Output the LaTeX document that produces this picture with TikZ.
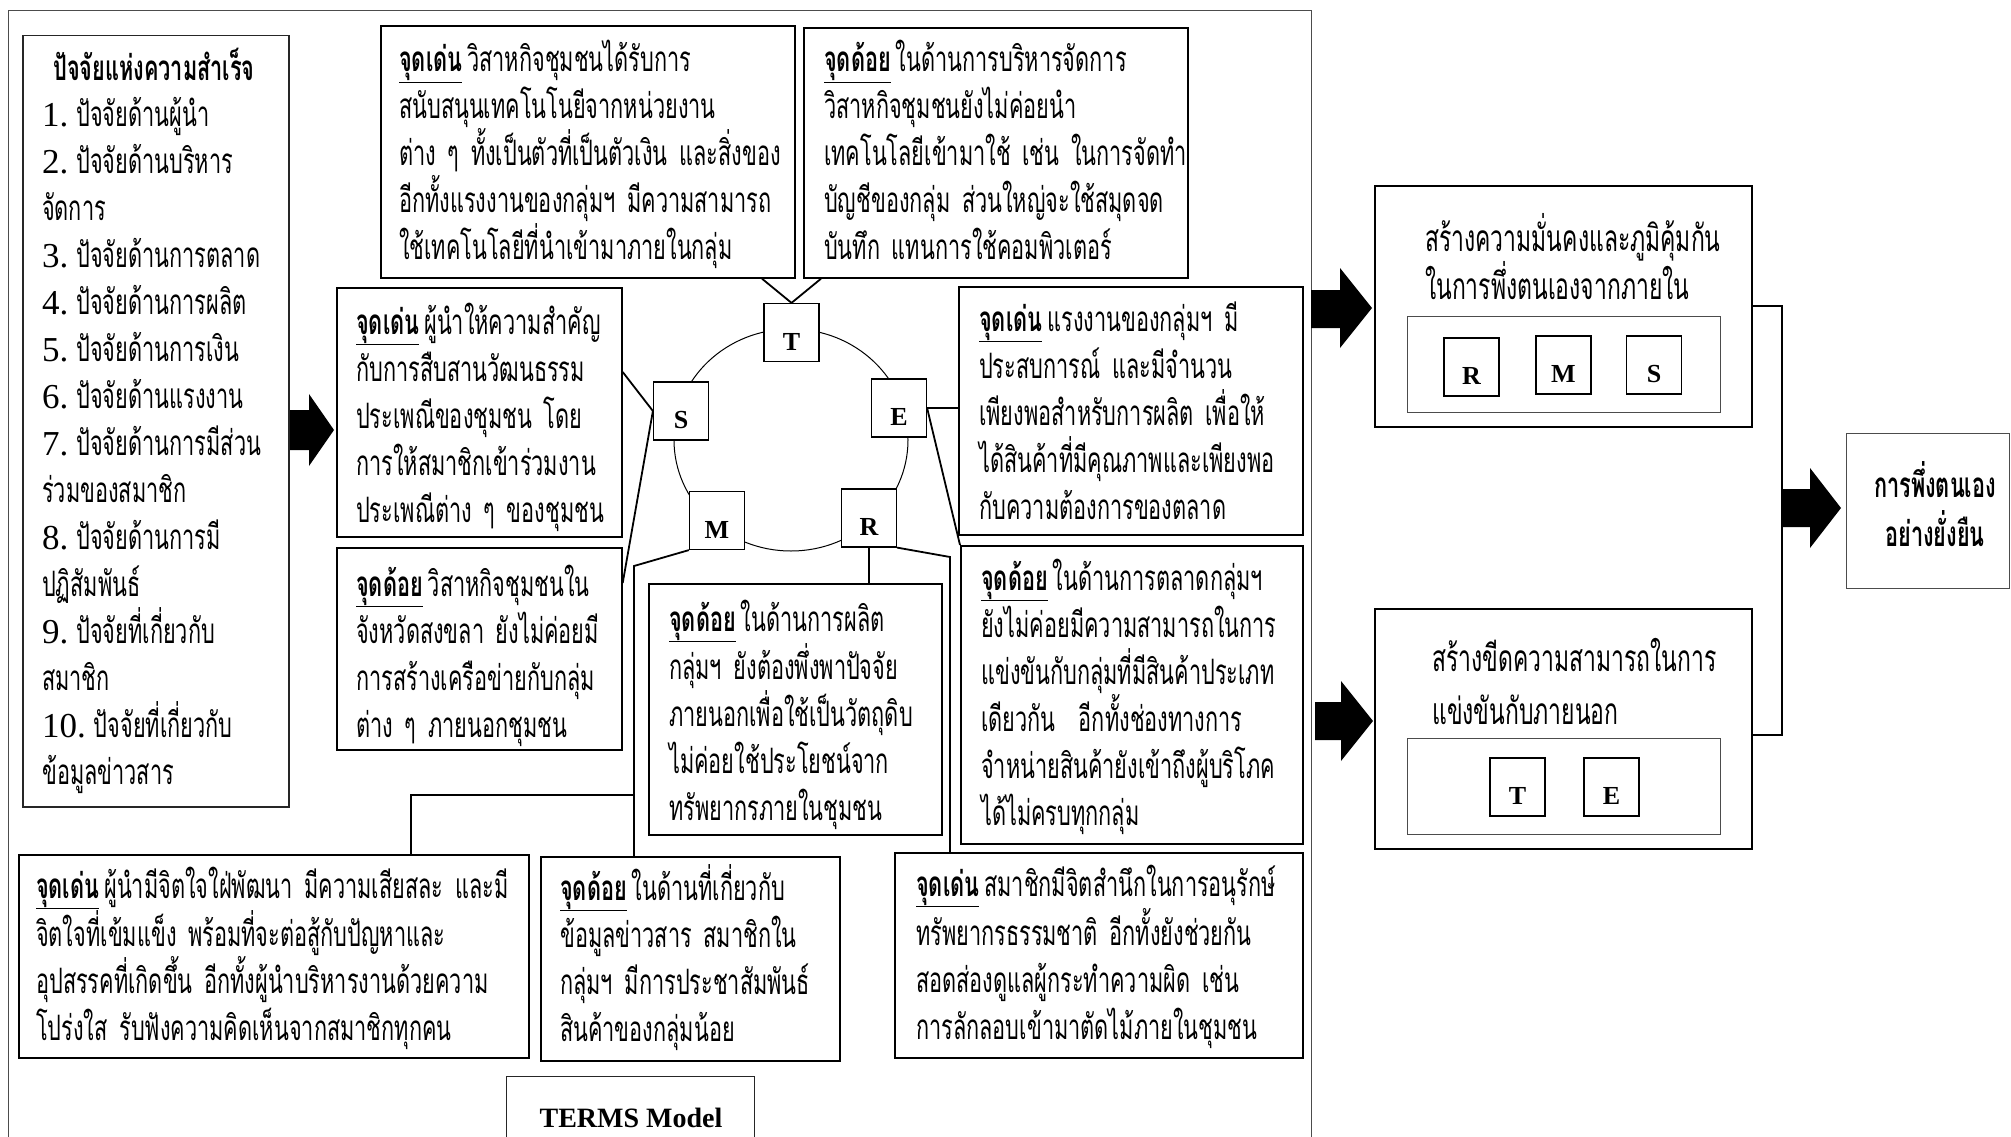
\documentclass[tikz,border=0pt]{standalone}
\usepackage{fontspec}
\setmainfont{Liberation Serif}
\newfontfamily\thai[Script=Thai,FakeStretch=0.62]{Loma}
\newcommand\lat[1]{{\rmfamily #1}\kern8pt}
\newcommand\hd[1]{\underline{\textbf{#1}}\kern5pt}
\newcommand\thaitext[1]{\thai\fontsize{#1}{47pt}\selectfont\spaceskip=9pt\relax}
\begin{document}
\begin{tikzpicture}[x=1pt,y=-1pt,
  tbox/.style={draw, line width=1.7pt, inner sep=0pt, anchor=north west},
  gbox/.style={draw=black!70, line width=1.2pt, inner sep=0pt, anchor=north west},
  txt/.style={anchor=base west, inner sep=0pt, text width=700pt, align=left,
    font={\thaitext{35pt}}},
  letbox/.style={draw, line width=1.2pt, fill=white, minimum width=55pt, minimum height=58pt,
    inner sep=0pt, font=\bfseries\fontsize{26pt}{30pt}\selectfont, text height=35pt, text depth=0pt},
  conn/.style={line width=1.8pt},
  blockarrow/.style={fill=black}]
\useasboundingbox (0,0) rectangle (2011,1137);

% outer frame
\node[gbox, minimum width=1303pt, minimum height=1140pt] (frame) at (8,10) {};

% circle of TERMS
\draw[line width=1pt] (791,440) ellipse [x radius=117pt, y radius=111pt];
\node[letbox] (T) at (791.5,332.5) {T};
\node[letbox] (S) at (681,411) {S};
\node[letbox] (E) at (899,408) {E};
\node[letbox] (M) at (717,520.5) {M};
\node[letbox] (R) at (869,518) {R};

% left factor box
\node[gbox, draw=black!85, line width=1.5pt, minimum width=266pt, minimum height=771pt] (lbox) at (22,35) {};
\node[anchor=base, inner sep=0pt, font=\thai\bfseries\fontsize{35pt}{47pt}\selectfont] (ltitle) at (154,81) {ปัจจัยแห่งความสำเร็จ};
\node[txt] (llist) at (42,127) {\lat{1.}ปัจจัยด้านผู้นำ\\
\lat{2.}ปัจจัยด้านบริหาร\\
จัดการ\\
\lat{3.}ปัจจัยด้านการตลาด\\
\lat{4.}ปัจจัยด้านการผลิต\\
\lat{5.}ปัจจัยด้านการเงิน\\
\lat{6.}ปัจจัยด้านแรงงาน\\
\lat{7.}ปัจจัยด้านการมีส่วน\\
ร่วมของสมาชิก\\
\lat{8.}ปัจจัยด้านการมี\\
ปฏิสัมพันธ์\\
\lat{9.}ปัจจัยที่เกี่ยวกับ\\
สมาชิก\\
\lat{10.}ปัจจัยที่เกี่ยวกับ\\
ข้อมูลข่าวสาร};

% text boxes
\node[tbox, minimum width=414pt, minimum height=252pt] (tb1) at (380,25) {};
\node[txt] (tb1t) at (399,72) {\hd{จุดเด่น} วิสาหกิจชุมชนได้รับการ\\
สนับสนุนเทคโนโนยีจากหน่วยงาน\\
ต่าง ๆ ทั้งเป็นตัวที่เป็นตัวเงิน และสิ่งของ\\
อีกทั้งแรงงานของกลุ่มฯ มีความสามารถ\\
ใช้เทคโนโลยีที่นำเข้ามาภายในกลุ่ม};

\node[tbox, minimum width=384pt, minimum height=250pt] (tb2) at (803,27) {};
\node[txt] (tb2t) at (824,72) {\hd{จุดด้อย} ในด้านการบริหารจัดการ\\
วิสาหกิจชุมชนยังไม่ค่อยนำ\\
เทคโนโลยีเข้ามาใช้ เช่น ในการจัดทำ\\
บัญชีของกลุ่ม ส่วนใหญ่จะใช้สมุดจด\\
บันทึก แทนการใช้คอมพิวเตอร์};

\node[tbox, minimum width=285pt, minimum height=249pt] (lm) at (336,287) {};
\node[txt] (lmt) at (356,334) {\hd{จุดเด่น} ผู้นำให้ความสำคัญ\\
กับการสืบสานวัฒนธรรม\\
ประเพณีของชุมชน โดย\\
การให้สมาชิกเข้าร่วมงาน\\
ประเพณีต่าง ๆ ของชุมชน};

\node[tbox, minimum width=285pt, minimum height=202pt] (ll) at (336,547) {};
\node[txt] (llt) at (356,596) {\hd{จุดด้อย} วิสาหกิจชุมชนใน\\
จังหวัดสงขลา ยังไม่ค่อยมี\\
การสร้างเครือข่ายกับกลุ่ม\\
ต่าง ๆ ภายนอกชุมชน};

\node[tbox, minimum width=293pt, minimum height=251pt] (rb) at (648,583) {};
\node[txt] (rbt) at (669,631) {\hd{จุดด้อย} ในด้านการผลิต\\
กลุ่มฯ ยังต้องพึ่งพาปัจจัย\\
ภายนอกเพื่อใช้เป็นวัตถุดิบ\\
ไม่ค่อยใช้ประโยชน์จาก\\
ทรัพยากรภายในชุมชน};

\node[tbox, minimum width=344pt, minimum height=248pt] (er) at (958,286) {};
\node[txt] (ert) at (979,331) {\hd{จุดเด่น} แรงงานของกลุ่มฯ มี\\
ประสบการณ์ และมีจำนวน\\
เพียงพอสำหรับการผลิต เพื่อให้\\
ได้สินค้าที่มีคุณภาพและเพียงพอ\\
กับความต้องการของตลาด};

\node[tbox, minimum width=342pt, minimum height=298pt] (el) at (960,545) {};
\node[txt] (elt) at (981,590) {\hd{จุดด้อย} ในด้านการตลาดกลุ่มฯ\\
ยังไม่ค่อยมีความสามารถในการ\\
แข่งขันกับกลุ่มที่มีสินค้าประเภท\\
เดียวกัน \ อีกทั้งช่องทางการ\\
จำหน่ายสินค้ายังเข้าถึงผู้บริโภค\\
ได้ไม่ครบทุกกลุ่ม};

\node[tbox, minimum width=510pt, minimum height=203pt] (bl) at (18,854) {};
\node[txt] (blt) at (36,898) {\hd{จุดเด่น} ผู้นำมีจิตใจใฝ่พัฒนา มีความเสียสละ และมี\\
จิตใจที่เข้มแข็ง พร้อมที่จะต่อสู้กับปัญหาและ\\
อุปสรรคที่เกิดขึ้น อีกทั้งผู้นำบริหารงานด้วยความ\\
โปร่งใส รับฟังความคิดเห็นจากสมาชิกทุกคน};

\node[tbox, minimum width=299pt, minimum height=204pt] (bm) at (540,856) {};
\node[txt] (bmt) at (560,900) {\hd{จุดด้อย} ในด้านที่เกี่ยวกับ\\
ข้อมูลข่าวสาร สมาชิกใน\\
กลุ่มฯ มีการประชาสัมพันธ์\\
สินค้าของกลุ่มน้อย};

\node[tbox, minimum width=408pt, minimum height=205pt] (br) at (894,852) {};
\node[txt] (brt) at (916,896) {\hd{จุดเด่น} สมาชิกมีจิตสำนึกในการอนุรักษ์\\
ทรัพยากรธรรมชาติ อีกทั้งยังช่วยกัน\\
สอดส่องดูแลผู้กระทำความผิด เช่น\\
การลักลอบเข้ามาตัดไม้ภายในชุมชน};

\node[gbox, draw=black!85, line width=1.4pt, minimum width=248pt, minimum height=90pt] (terms) at (506,1076) {};
\node[anchor=base, inner sep=0pt, font=\bfseries\fontsize{28pt}{30pt}\selectfont] (termst) at (631,1127) {TERMS Model};

% connectors around the circle
\draw[conn] ([xshift=382pt]tb1.south west) -- (T.north);
\draw[conn] ([xshift=18pt]tb2.south west) -- (T.north);
\draw[conn] (lm.east |- 0,372) -- (S.west);
\draw[conn] (S.west) -- (ll.east |- 0,583);
\coordinate (mbend) at (634,566);
\coordinate (mjoin) at (634,795);
\coordinate (bljoin) at (411,795);
\draw[conn] (M.south west) -- (mbend) -- (mbend |- bm.north);
\draw[conn] (mjoin) -- (bljoin) -- (bljoin |- bl.north);
\draw[conn] (R.south) -- (R.south |- rb.north);
\coordinate (rbend) at (950,557);
\draw[conn] (R.south east) -- (rbend) -- (rbend |- br.north);
\draw[conn] (E.east) -- (E.east -| er.west);
\draw[conn] (E.east) -- (el.north west);

% right side
\node[tbox, minimum width=377pt, minimum height=241pt] (trbox) at (1374,185) {};
\node[txt, font={\thaitext{37pt}\baselineskip=46pt}] (trt) at (1425,251) {สร้างความมั่นคงและภูมิคุ้มกัน\\ในการพึ่งตนเองจากภายใน};
\node[gbox, minimum width=313pt, minimum height=96pt] (trin) at (1407,316) {};
\node[letbox] (R2) at (1471.5,367) {R};
\node[letbox] (M2) at (1563.5,365) {M};
\node[letbox] (S2) at (1654,365) {S};

\node[tbox, minimum width=377pt, minimum height=240pt] (brbox) at (1374,608) {};
\node[txt, font={\thaitext{37pt}\baselineskip=53pt}] (brbt) at (1432,671) {สร้างขีดความสามารถในการ\\แข่งขันกับภายนอก};
\node[gbox, minimum width=313pt, minimum height=96pt] (brin) at (1407,738) {};
\node[letbox] (T2) at (1517.5,787) {T};
\node[letbox] (E2) at (1611.5,787) {E};

\node[gbox, line width=1.4pt, minimum width=163pt, minimum height=155pt] (final) at (1846,433) {};
\node[anchor=base, inner sep=0pt, text width=170pt, align=center, font=\thai\bfseries\fontsize{35pt}{49pt}\selectfont] (finalt) at (1935,497) {การพึ่งตนเอง\\อย่างยั่งยืน};

\coordinate (rj) at (1782,306);
\draw[conn] (trbox.east) -- (trbox.east -| rj) -- (rj |- 0,735) -- (brbox.east |- 0,735);

% block arrows
\fill[blockarrow] (290,410) -- (309,410) -- (309,394) -- (334,430) -- (309,466) -- (309,450) -- (290,450) -- cycle;
\fill[blockarrow] (1311,290) -- (1340,290) -- (1340,268) -- (1372,308) -- (1340,348) -- (1340,328) -- (1311,328) -- cycle;
\fill[blockarrow] (1315,702) -- (1341,702) -- (1341,681) -- (1373,721) -- (1341,761) -- (1341,740) -- (1315,740) -- cycle;
\fill[blockarrow] (1783,489) -- (1810,489) -- (1810,468) -- (1841,508) -- (1810,548) -- (1810,527) -- (1783,527) -- cycle;
\end{tikzpicture}
\end{document}
